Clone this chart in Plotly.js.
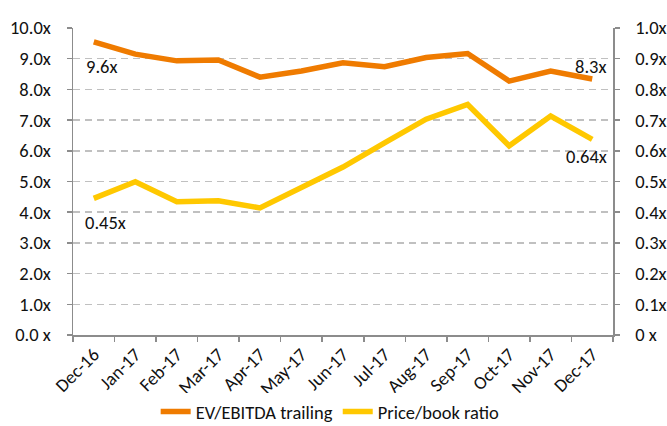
<!DOCTYPE html>
<html><head><meta charset="utf-8">
<script src="https://cdn.plot.ly/plotly-3.0.1.min.js"></script>
<style>html,body{margin:0;padding:0;background:#fff}#c{width:667px;height:426px}</style>
</head><body><div id="c"></div>
<script>
const months = ["Dec-16","Jan-17","Feb-17","Mar-17","Apr-17","May-17","Jun-17","Jul-17","Aug-17","Sep-17","Oct-17","Nov-17","Dec-17"];
const evEbitda = [9.55,9.15,8.93,8.96,8.40,8.60,8.87,8.74,9.04,9.17,8.27,8.60,8.34];
const priceBook = [0.445,0.499,0.434,0.437,0.414,0.483,0.547,0.626,0.703,0.751,0.616,0.713,0.637];
const leftTickVals = [0,1,2,3,4,5,6,7,8,9,10];
const leftTickText = ["0.0 x","1.0x","2.0x","3.0x","4.0x","5.0x","6.0x","7.0x","8.0x","9.0x","10.0x"];
const rightTickVals = [0,0.1,0.2,0.3,0.4,0.5,0.6,0.7,0.8,0.9,1.0];
const rightTickText = ["0 x","0.1x","0.2x","0.3x","0.4x","0.5x","0.6x","0.7x","0.8x","0.9x","1.0x"];
const seriesNames = ["EV/EBITDA trailing","Price/book ratio"];
const labelText = {evFirst:"9.6x", evLast:"8.3x", pbFirst:"0.45x", pbLast:"0.64x"};

const FONT = {family:"Carlito, 'Noto Sans', 'Open Sans', sans-serif", size:18.5, color:"#111"};
const axisGray = "#8c8c8c";

const traces = [
  {x:months, y:evEbitda, name:seriesNames[0], type:"scatter", mode:"lines",
   line:{color:"#EF7B00", width:5.5}, yaxis:"y"},
  {x:months, y:priceBook, name:seriesNames[1], type:"scatter", mode:"lines",
   line:{color:"#FFC800", width:5.5}, yaxis:"y2"}
];

const last = months.length-1;
const layout = {
  width:667, height:426,
  margin:{l:73, r:54, t:28, b:91},
  paper_bgcolor:"#fff", plot_bgcolor:"#fff",
  font:FONT,
  showlegend:true,
  legend:{orientation:"h", x:0.495, xanchor:"center", xref:"container", yref:"container", y:0.033, yanchor:"middle",
          font:FONT, tracegroupgap:0},
  xaxis:{type:"category", range:[-0.5,12.5], tickson:"boundaries", ticks:"outside", ticklen:5, automargin:false,
         tickcolor:axisGray, tickwidth:1.5, showline:true, linecolor:axisGray, linewidth:1.5,
         showgrid:false, tickangle:-45, tickfont:FONT, fixedrange:true},
  yaxis:{range:[0,10], tickvals:leftTickVals, ticktext:leftTickText, ticks:"outside", ticklen:5, automargin:false,
         ticklabelstandoff:12,
         tickcolor:axisGray, tickwidth:1.5, showline:true, linecolor:axisGray, linewidth:1.5,
         showgrid:true, gridcolor:"#c0c0c0", gridwidth:1.5, griddash:"7px,5px", zeroline:false,
         tickfont:FONT},
  yaxis2:{range:[0,1], overlaying:"y", side:"right", tickvals:rightTickVals, ticktext:rightTickText, automargin:false,
          ticklabelstandoff:12,
          ticks:"outside", ticklen:5, tickcolor:axisGray, tickwidth:1.5, showline:true,
          linecolor:axisGray, linewidth:1.5, showgrid:false, zeroline:false,
          tickfont:FONT},
  annotations:[
    {x:months[0], y:evEbitda[0], xref:"x", yref:"y", text:labelText.evFirst, showarrow:false,
     xanchor:"left", yanchor:"middle", xshift:-10, yshift:-25, font:FONT},
    {x:months[last], y:evEbitda[last], xref:"x", yref:"y", text:labelText.evLast, showarrow:false,
     xanchor:"right", yanchor:"middle", xshift:16, yshift:12, font:FONT},
    {x:months[0], y:priceBook[0], xref:"x", yref:"y2", text:labelText.pbFirst, showarrow:false,
     xanchor:"left", yanchor:"middle", xshift:-11, yshift:-24, font:FONT},
    {x:months[last], y:priceBook[last], xref:"x", yref:"y2", text:labelText.pbLast, showarrow:false,
     xanchor:"right", yanchor:"middle", xshift:17, yshift:-17, font:FONT}
  ]
};
Plotly.newPlot("c", traces, layout, {displayModeBar:false, staticPlot:true});
</script></body></html>
